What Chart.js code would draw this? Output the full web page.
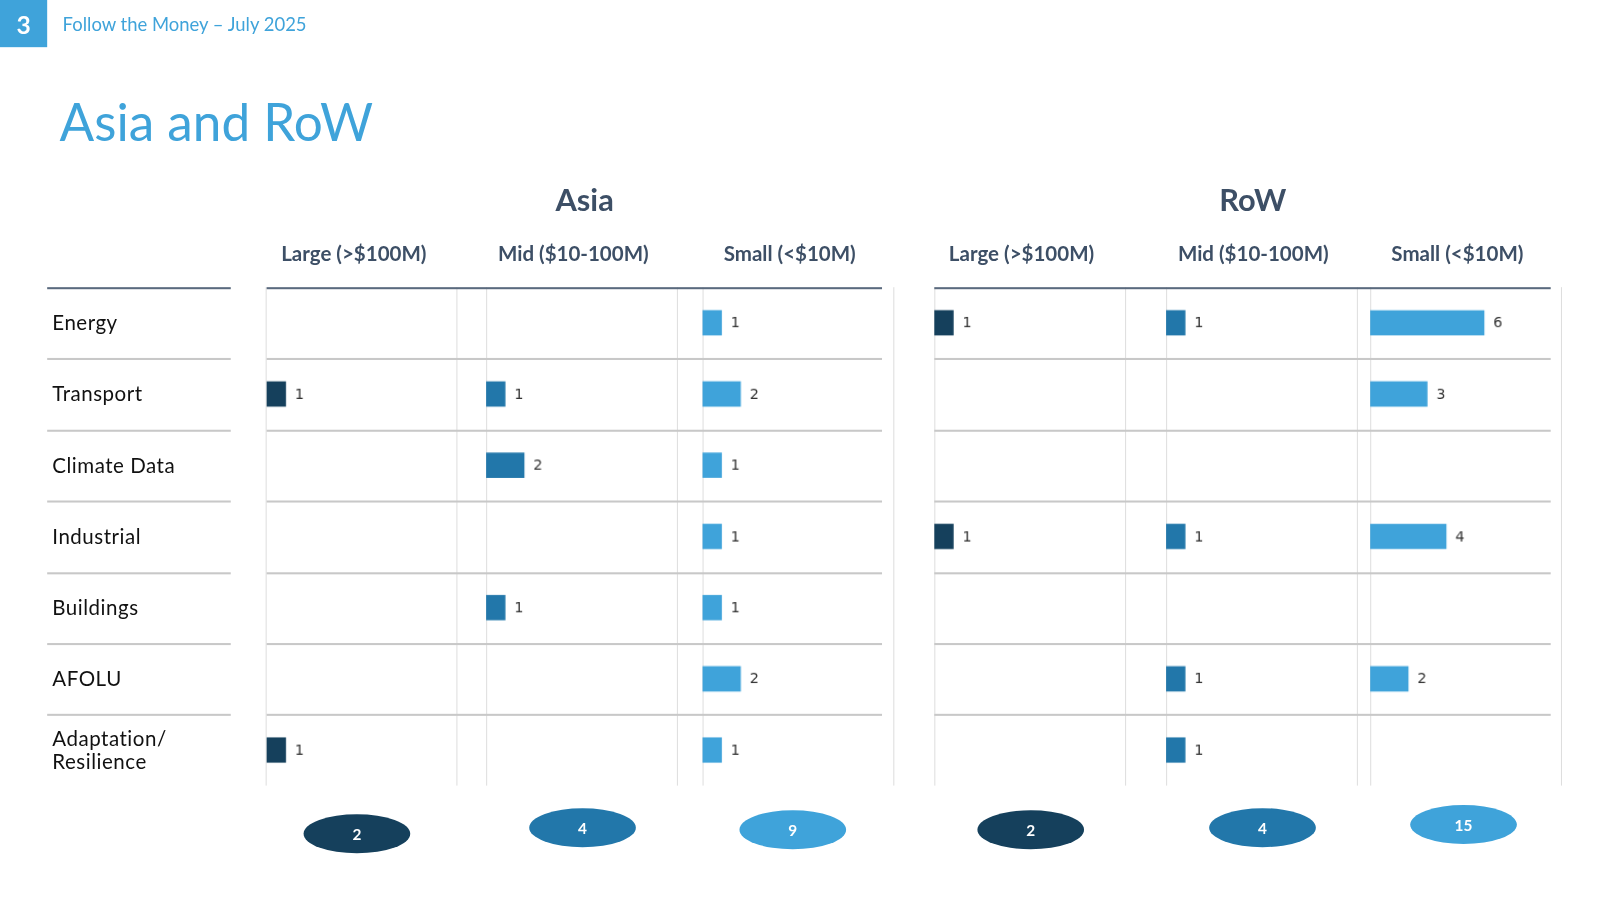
<!DOCTYPE html>
<html><head><meta charset="utf-8">
<script src="https://cdn.jsdelivr.net/npm/chart.js@4"></script>
<style>
html,body{margin:0;width:1600px;height:900px;background:#fff;overflow:hidden}
#page{position:relative;width:1560px;height:878px;font-family:Lato,"Open Sans",sans-serif;transform:scale(1.0256);transform-origin:0 0}
.abs{position:absolute}
.hl{position:absolute;height:2px;background:#c8c8c8}
.vl{position:absolute;width:1px;background:#dedede;top:280px;height:486px}
.lab{position:absolute;left:51px;font-size:20px;color:#111;letter-spacing:0.5px}
.colh{position:absolute;top:234px;font-size:20px;font-weight:bold;color:#3d4f66;text-align:center;width:200px}
.reg{position:absolute;top:176px;font-size:30px;font-weight:bold;color:#3d4f66;text-align:center;width:200px}
.ell{position:absolute;width:104px;height:38px;border-radius:50%;color:#fff;font-size:15px;font-weight:bold;display:flex;align-items:center;justify-content:center}
canvas{position:absolute}
</style></head><body>
<div id="page">
<div class="abs" style="left:0;top:0;width:46px;height:46px;background:#3fa3da;color:#fff;font-size:24px;font-weight:bold;display:flex;align-items:center;justify-content:center">3</div>
<div class="abs" style="left:61px;top:12px;font-size:18px;color:#3fa3da">Follow the Money – July 2025</div>
<div class="abs" style="left:58px;top:88px;font-size:50px;color:#3fa3da">Asia and RoW</div>
</div>
<script>
const categories = ['Energy', 'Transport', 'Climate Data', 'Industrial', 'Buildings', 'AFOLU', 'Adaptation/\nResilience'];
const sizeLabels = ['Large (>$100M)', 'Mid ($10-100M)', 'Small (<$10M)'];
const regions = ['Asia', 'RoW'];
const asiaLarge = [null, 1, null, null, null, null, 1];
const asiaMid = [null, 1, 2, null, 1, null, null];
const asiaSmall = [1, 2, 1, 1, 1, 2, 1];
const rowLarge = [1, null, null, 1, null, null, null];
const rowMid = [1, null, null, 1, null, 1, 1];
const rowSmall = [6, 3, null, 4, null, 2, null];
const totals = [2, 4, 9, 2, 4, 15];
const colors = ['#15405c', '#2277aa', '#3fa3da'];

const page = document.getElementById('page');
const add = (cls, style, text) => {
  const d = document.createElement('div');
  d.className = cls;
  d.style.cssText = style;
  if (text != null) d.innerText = text;
  page.appendChild(d);
  return d;
};

// left label column
categories.forEach((c, i) => {
  const top = 280 + i * 69.4;
  add('hl', `left:46px;top:${top}px;width:179px;${i === 0 ? 'background:#5a6a7e' : ''}`);
  add('lab', `top:${top + 35 - (c.includes('\n') ? 23 : 12)}px;line-height:23px`, c);
});

// region grids
const regionLeft = [260, 911];
const regionRight = [860, 1512];
const colStarts = [[260, 474, 685], [911, 1137, 1336]];
const vlines = [259, 445, 474, 660, 685, 871, 911, 1097, 1137, 1323, 1336, 1522];
vlines.forEach((x) => add('vl', `left:${x}px`));
regions.forEach((r, ri) => {
  add('reg', `left:${(regionLeft[ri] + regionRight[ri]) / 2 - 100 + 10}px`, r);
  for (let i = 0; i < 7; i++) {
    const top = 280 + i * 69.4;
    add('hl', `left:${regionLeft[ri]}px;top:${top}px;width:${regionRight[ri] - regionLeft[ri]}px;${i === 0 ? 'background:#5a6a7e' : ''}`);
  }
  colStarts[ri].forEach((x, ci) => add('colh', `left:${x + 85 - 100}px`, sizeLabels[ci]));
});

// totals
const ellCenters = [[348, 813], [568, 807], [773, 809], [1005, 809], [1231, 807], [1427, 804]];
totals.forEach((t, i) => {
  add('ell', `left:${ellCenters[i][0] - 52}px;top:${ellCenters[i][1] - 19}px;background:${colors[i % 3]}`, t);
});

// value label plugin
const valueLabels = {
  id: 'valueLabels',
  afterDatasetsDraw(chart) {
    const ctx = chart.ctx;
    ctx.save();
    ctx.font = '14px "DejaVu Sans", sans-serif';
    ctx.fillStyle = '#333';
    ctx.textBaseline = 'middle';
    chart.getDatasetMeta(0).data.forEach((bar, i) => {
      const v = chart.data.datasets[0].data[i];
      if (v == null) return;
      ctx.fillText(v, bar.x + 9, bar.y + 1);
    });
    ctx.restore();
  }
};

const series = [asiaLarge, asiaMid, asiaSmall, rowLarge, rowMid, rowSmall];
const unitPx = 18.5;
const canvasW = 200;
series.forEach((vals, i) => {
  const cv = document.createElement('canvas');
  const x = colStarts[Math.floor(i / 3)][i % 3];
  cv.style.cssText = `left:${x}px;top:280px;width:${canvasW}px;height:486px`;
  cv.width = canvasW;
  cv.height = 486;
  page.appendChild(cv);
  new Chart(cv, {
    type: 'bar',
    data: { labels: categories, datasets: [{ data: vals, backgroundColor: colors[i % 3], barThickness: 24 }] },
    options: {
      indexAxis: 'y',
      responsive: false,
      animation: false,
      layout: { padding: 0 },
      plugins: { legend: { display: false }, tooltip: { enabled: false } },
      scales: {
        x: { display: false, min: 0, max: canvasW / unitPx },
        y: { display: false, offset: true }
      }
    },
    plugins: [valueLabels]
  });
});
</script>
</body></html>
